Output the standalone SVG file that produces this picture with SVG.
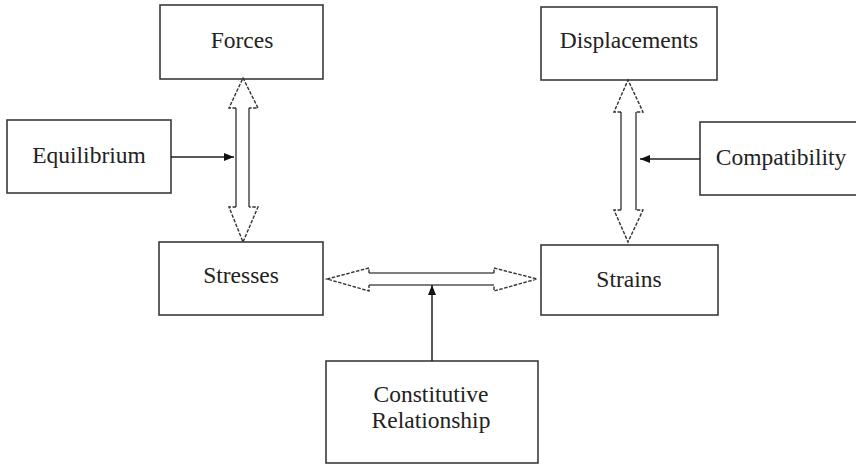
<svg xmlns="http://www.w3.org/2000/svg" width="856" height="467" viewBox="0 0 856 467">
<defs>
<marker id="ah" markerWidth="10" markerHeight="8" refX="10" refY="4" orient="auto" markerUnits="userSpaceOnUse">
<path d="M0,0 L10,4 L0,8 Z" fill="#111"/>
</marker>
<style>
.box{fill:#fff;stroke:#3a3a3a;stroke-width:1.6}
.t{font-family:"Liberation Serif","Times New Roman",serif;font-size:23.5px;fill:#222;text-anchor:middle}
.shaft{stroke:#555;stroke-width:1.6;fill:none}
.head{stroke:#333;stroke-width:1.4;fill:none;stroke-dasharray:3.5 1.5}
.thin{stroke:#222;stroke-width:1.5;fill:none}
</style>
</defs>
<rect width="856" height="467" fill="#fff"/>
<g id="forces"><rect class="box" x="160" y="5" width="163" height="74"/><text class="t" x="242" y="48">Forces</text></g>
<g id="equilibrium"><rect class="box" x="7" y="120" width="164" height="73"/><text class="t" x="89" y="163">Equilibrium</text></g>
<g id="stresses"><rect class="box" x="159" y="242" width="164" height="73"/><text class="t" x="241" y="283">Stresses</text></g>
<g id="displacements"><rect class="box" x="541" y="7" width="176" height="73"/><text class="t" x="629" y="48">Displacements</text></g>
<g id="compatibility"><rect class="box" x="700" y="122" width="162" height="73"/><text class="t" x="781" y="165">Compatibility</text></g>
<g id="strains"><rect class="box" x="541" y="245" width="177" height="70"/><text class="t" x="629" y="287">Strains</text></g>
<g id="constitutive"><rect class="box" x="326" y="361" width="212" height="102"/><text class="t" x="431" y="402">Constitutive</text><text class="t" x="431" y="428">Relationship</text></g>
<g id="connectors">
<line class="shaft" x1="236" y1="108" x2="236" y2="207"/>
<line class="shaft" x1="249" y1="108" x2="249" y2="207"/>
<polyline class="head" points="236,108 229,108 243,78 258,108 249,108"/>
<polyline class="head" points="236,207 229,207 243,242 258,207 249,207"/>
<line class="shaft" x1="621" y1="112" x2="621" y2="210"/>
<line class="shaft" x1="636" y1="112" x2="636" y2="210"/>
<polyline class="head" points="621,112 614,112 628,80 643,112 636,112"/>
<polyline class="head" points="621,210 614,210 628,242 643,210 636,210"/>
<line class="shaft" x1="369" y1="273" x2="494" y2="273"/>
<line class="shaft" x1="369" y1="285" x2="494" y2="285"/>
<polyline class="head" points="369,273 369,268 327,279 369,291 369,285"/>
<polyline class="head" points="494,273 494,268 537,279 494,291 494,285"/>
<line class="thin" x1="171" y1="157" x2="234" y2="157" marker-end="url(#ah)"/>
<line class="thin" x1="700" y1="159" x2="640" y2="159" marker-end="url(#ah)"/>
<line class="thin" x1="432" y1="361" x2="432" y2="285" marker-end="url(#ah)"/>
</g>
</svg>
